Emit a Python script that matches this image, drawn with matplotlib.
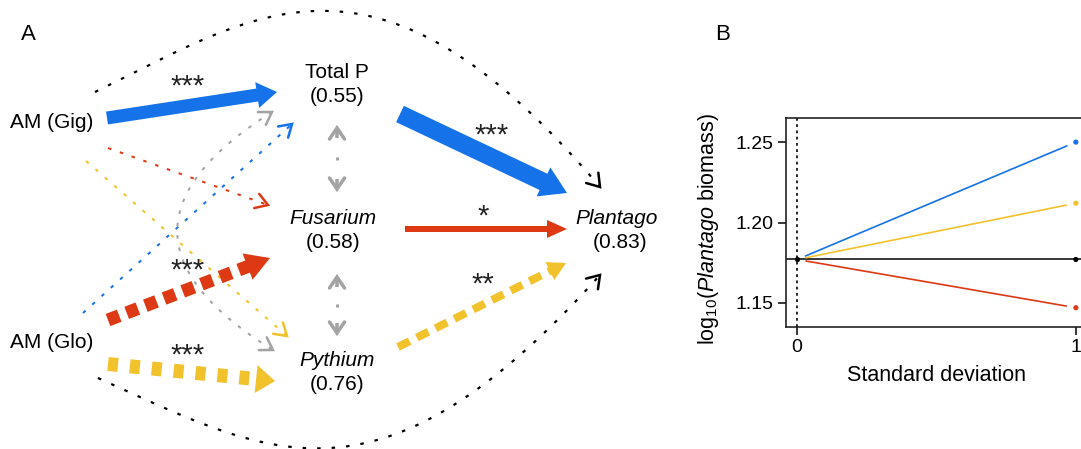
import numpy as np
import matplotlib.pyplot as plt
from matplotlib.patches import Polygon
from math import comb

plt.rcParams['font.family'] = ['Liberation Sans', 'DejaVu Sans']
plt.rcParams['mathtext.fontset'] = 'custom'
plt.rcParams['mathtext.rm'] = 'Liberation Sans'
plt.rcParams['mathtext.it'] = 'Liberation Sans:italic'
plt.rcParams['lines.scale_dashes'] = False

# ---- data ----
# panel A : nodes and explained variance
node_names = ['AM (Gig)', 'AM (Glo)', 'Total P', 'Fusarium', 'Pythium', 'Plantago']
node_r2 = [None, None, 0.55, 0.58, 0.76, 0.83]
node_italic = [False, False, False, True, True, True]
node_xy = [(52, 122), (52, 342), (337, 72), (333, 218), (337, 360), (617, 218)]

# significant paths: stars
path_stars = ['***', '***', '*', '**', '***', '***']
star_xy = [(188, 82), (492, 131), (483, 212), (483, 280), (188, 266), (188, 351)]

# panel B : predicted log10 Plantago biomass at 0 and +1 SD
sd = [0, 1]
baseline = 1.177
b_labels = ['Total P', 'Pythium', 'Fusarium', 'none']
b_values = [1.250, 1.212, 1.147, 1.177]

BLUE = '#1672E8'
RED = '#DD3914'
YEL = '#F2C22D'
GREY = '#A3A3A3'
b_colors = [BLUE, YEL, RED, 'black']

PX = 0.72  # points per pixel at dpi 100

fig = plt.figure(figsize=(10.81, 4.49), dpi=100)
ax = fig.add_axes([0, 0, 1, 1])
ax.set_xlim(0, 1081)
ax.set_ylim(449, 0)
ax.axis('off')


def unit(p0, p1):
    d = np.subtract(p1, p0).astype(float)
    return d / np.hypot(*d)


def seg(p0, p1, color, wpx, dash=None):
    kw = dict(color=color, lw=wpx * PX, solid_capstyle='butt', dash_capstyle='butt')
    if dash:
        kw['dashes'] = [d * PX for d in dash]
    ax.plot([p0[0], p1[0]], [p0[1], p1[1]], **kw)


def fat_arrow(p0, p1, color, wpx, hl, hw, dash=None):
    d = unit(p0, p1)
    n = np.array([-d[1], d[0]])
    base = np.array(p1, float) - hl * d
    seg(p0, base + d * 1, color, wpx, dash)
    ax.add_patch(Polygon([p1, base + n * hw / 2, base - n * hw / 2],
                         closed=True, fc=color, ec='none'))


def chevron(tip, d, color, lwpx=2.5, L=12, W=15):
    tip = np.array(tip, float)
    n = np.array([-d[1], d[0]])
    pts = np.array([tip - L * d + n * W / 2, tip, tip - L * d - n * W / 2])
    ax.plot(pts[:, 0], pts[:, 1], color=color, lw=lwpx * PX,
            solid_capstyle='round', solid_joinstyle='miter')


def thin_arrow(p0, p1, color):
    seg(p0, p1, color, 2, dash=(3.5, 9))
    chevron(p1, unit(p0, p1), color)


def bezier(pts, n=300):
    pts = np.array(pts, float)
    k = len(pts) - 1
    t = np.linspace(0, 1, n)[:, None]
    return sum(comb(k, i) * (1 - t) ** (k - i) * t ** i * pts[i] for i in range(k + 1))


def curve(pts, color, wpx, dash, heads=(False, True), L=12, W=16, hlw=2.5):
    c = bezier(pts)
    ax.plot(c[:, 0], c[:, 1], color=color, lw=wpx * PX, dashes=[d * PX for d in dash],
            dash_capstyle='butt')
    if heads[1]:
        chevron(pts[-1], unit(pts[-2], pts[-1]), color, hlw, L, W)
    if heads[0]:
        chevron(pts[0], unit(pts[1], pts[0]), color, hlw, L, W)


# thin dotted (non significant) paths
thin_arrow((108, 148), (268, 205), RED)
thin_arrow((86, 161), (287, 336), YEL)
thin_arrow((83, 313), (292, 124), BLUE)
curve([(272, 112), (82, 232), (273, 350)], GREY, 2, (3.5, 9), heads=(True, True),
      L=12, W=15)

# direct paths AM -> Plantago (dotted black curves)
curve([(95, 92), (257, 13), (376, -77), (600, 187)], 'black', 2.2, (3.5, 11))
curve([(98, 378), (269, 455), (378, 522), (600, 275)], 'black', 2.2, (3.5, 11))

# significant paths
fat_arrow((107, 118), (277, 92), BLUE, 13, 20, 26)
fat_arrow((400, 114), (567, 193), BLUE, 18, 26, 32)
fat_arrow((405, 229), (567, 229), RED, 6, 20, 18)
fat_arrow((398, 347), (566, 263), YEL, 8, 18, 20, dash=(13, 8))
fat_arrow((108, 320), (270, 258), RED, 13, 24, 28, dash=(12, 8))
fat_arrow((108, 364), (275, 381), YEL, 14, 19, 28, dash=(10, 12))

# grey double-headed correlations between mediators
for top, bot in [(128, 189), (277, 333)]:
    chevron((337, top), np.array([0, -1.0]), GREY, 3.5, 11, 15)
    chevron((337, bot), np.array([0, 1.0]), GREY, 3.5, 11, 15)
    seg((337, top), (337, top + 10), GREY, 3.5)
    seg((337, bot - 10), (337, bot), GREY, 3.5)
    seg((337, (top + bot) / 2 - 1.5), (337, (top + bot) / 2 + 1.5), GREY, 3)

# node labels
for name, r2, it, (x, y) in zip(node_names, node_r2, node_italic, node_xy):
    ax.text(x, y, name, ha='center', va='center', fontsize=15,
            style='italic' if it else 'normal')
    if r2 is not None:
        ax.text(x + (3 if name == 'Plantago' else 0), y + 25, f'({r2:.2f})',
                ha='center', va='center', fontsize=15)

# stars: asterisk glyph sits high, so anchor on the baseline
for s, (x, y) in zip(path_stars, star_xy):
    ax.text(x, y + 13, s, ha='center', va='baseline', fontsize=21, color='#222222')

ax.text(28, 35, 'A', ha='center', va='center', fontsize=16)
ax.text(723, 35, 'B', ha='center', va='center', fontsize=16)

# ---- panel B ----
axb = fig.add_axes([786 / 1081, 1 - 327 / 449, 301 / 1081, 209 / 449])
axb.set_xlim(-0.04, 1.04)
axb.set_ylim(1.135, 1.265)
axb.axvline(0, color='black', lw=1.2, dashes=(2, 2.5))
axb.axhline(baseline, color='black', lw=1.1)
for v, c in zip(b_values[:3], b_colors[:3]):
    axb.annotate('', xy=(sd[1], v), xytext=(sd[0], baseline),
                 arrowprops=dict(arrowstyle='-', color=c, lw=1.2, shrinkA=6.5, shrinkB=7))
axb.scatter([sd[1]] * len(b_values), b_values, c=b_colors, s=14, zorder=3, lw=0)
axb.scatter([sd[0]], [baseline], c='black', s=14, zorder=3, lw=0)

axb.spines['right'].set_visible(False)
for s in ['left', 'top', 'bottom']:
    axb.spines[s].set_linewidth(1.2)
    axb.spines[s].set_color('#222222')
axb.set_xticks(sd)
axb.set_yticks([1.15, 1.20, 1.25])
axb.set_yticklabels(['1.15', '1.20', '1.25'])
axb.tick_params(direction='out', length=6, width=1.1, labelsize=14, pad=3)
axb.set_xlabel('Standard deviation', fontsize=15.5, labelpad=6)
axb.set_ylabel(r'log$_{10}$($\it{Plantago}$ biomass)', fontsize=15.5)
axb.yaxis.set_label_coords(-0.215, 0.47)

fig.savefig('out.png', dpi=100)
